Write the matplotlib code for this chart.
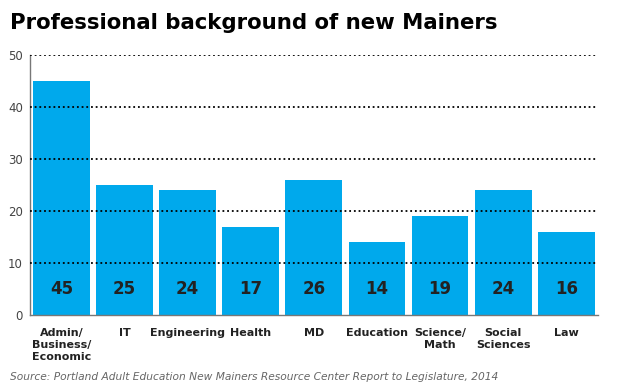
import matplotlib.pyplot as plt
import numpy as np

categories = ['Admin/\nBusiness/\nEconomic', 'IT', 'Engineering', 'Health', 'MD',
              'Education', 'Science/\nMath', 'Social\nSciences', 'Law']
values = [45, 25, 24, 17, 26, 14, 19, 24, 16]
yticks = [0, 10, 20, 30, 40, 50]

bar_color = '#00a9ec'
text_dark = '#222222'

fig = plt.figure(figsize=(6.24, 3.9), dpi=100)
ax = fig.add_axes([0.048, 0.192, 0.91, 0.667])

x = np.arange(len(categories))
ax.bar(x, values, width=0.9, color=bar_color, zorder=1)

# dotted gridlines on top of bars
for t in yticks[1:]:
    ax.axhline(t, color='black', linestyle=(0, (1, 1.6)), linewidth=1.3, zorder=3)

for xi, v in zip(x, values):
    ax.text(xi, 5, str(v), ha='center', va='center', fontsize=12,
            fontweight='bold', color=text_dark, zorder=4)

ax.set_xlim(-0.5, len(categories) - 0.5)
ax.set_ylim(0, 50)
ax.set_yticks(yticks)
ax.tick_params(axis='y', length=0, labelsize=8.5, labelcolor='#444444', pad=5)
ax.set_xticks(x)
ax.set_xticklabels(categories, fontsize=8, fontweight='bold', color=text_dark,
                   linespacing=1.3, va='top')
ax.tick_params(axis='x', length=0, pad=9)

for side in ['top', 'right']:
    ax.spines[side].set_visible(False)
for side in ['left', 'bottom']:
    ax.spines[side].set_color('#777777')
    ax.spines[side].set_linewidth(1)

fig.text(0.016, 0.94, 'Professional background of new Mainers', fontsize=15.3,
         fontweight='bold', color='black', ha='left', va='center')
fig.text(0.016, 0.033, 'Source: Portland Adult Education New Mainers Resource Center Report to Legislature, 2014',
         fontsize=7.7, style='italic', color='#666666', ha='left', va='center')

fig.savefig('out.png', dpi=100)
